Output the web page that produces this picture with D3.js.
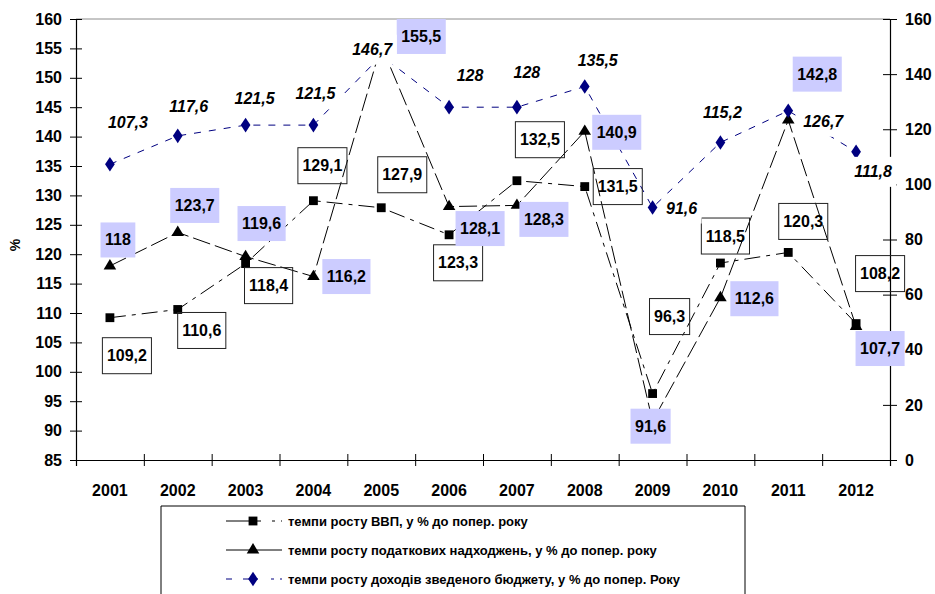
<!DOCTYPE html>
<html>
<head>
<meta charset="utf-8">
<script src="https://cdn.jsdelivr.net/npm/d3@7"></script>
<style>
  body { margin: 0; background: #fff; }
  svg { display: block; font-family: 'Liberation Sans', Arial, sans-serif; font-weight: bold; }
</style>
</head>
<body>
<svg id="chart" width="935" height="594"></svg>
<script>

// chart values
var years = ['2001', '2002', '2003', '2004', '2005', '2006', '2007', '2008', '2009', '2010', '2011', '2012']
var gdpGrowth = [109.2, 110.6, 118.4, 129.1, 127.9, 123.3, 132.5, 131.5, 96.3, 118.5, 120.3, 108.2]
var taxGrowth = [118, 123.7, 119.6, 116.2, 155.5, 128.1, 128.3, 140.9, 91.6, 112.6, 142.8, 107.7]
var budgetGrowth = [107.3, 117.6, 121.5, 121.5, 146.7, 128, 128, 135.5, 91.6, 115.2, 126.7, 111.8]
var leftTicks = [85, 90, 95, 100, 105, 110, 115, 120, 125, 130, 135, 140, 145, 150, 155, 160]
var rightTicks = [0, 20, 40, 60, 80, 100, 120, 140, 160]
var legendNames = [
	'темпи росту ВВП, у % до попер. року',
	'темпи росту податкових надходжень, у % до попер. року',
	'темпи росту доходів зведеного бюджету, у % до попер. Року'
]

// where each data label sits relative to its point (px)
var gdpLabelShift = [[17,38],[24,21],[23,22],[9,-35],[21,-33],[9,28],[23,-41],[33,0],[17,-77],[5,-27],[15,-31],[24,-50]]
var taxLabelShift = [[8,-26],[17,-27],[16,-33],[33,0],[40,-9],[31,22],[27,14],[32,1],[-2,5],[34,1],[29,-46],[24,22]]
var budgetLabelShift = [[18,-42],[11,-29],[9,-27],[2,-32],[-9,-6],[21,-32],[10,-35],[13,-26],[29,1],[2,-30],[35,11],[17,20]]

var svg = d3.select('#chart')
var plotL = 76, plotR = 890, plotT = 19, plotB = 460
var navy = '#000080'

var xScale = d3.scaleBand().domain(years).range([plotL, plotR])
var xEdge = d3.scaleLinear().domain([0, years.length]).range([plotL, plotR])
var yLeft = d3.scaleLinear().domain([85, 160]).range([plotB, plotT])
var yRight = d3.scaleLinear().domain([0, 160]).range([plotB, plotT])

function cx(d, i) { return xScale(years[i]) + xScale.bandwidth() / 2 }
function fmt(v) { return String(v).replace('.', ',') }

// top border
svg.append('line')
	.attr('x1', plotL).attr('x2', plotR).attr('y1', plotT).attr('y2', plotT)
	.attr('stroke', '#8c8c8c').attr('stroke-width', 1)

// axes
var gLeft = svg.append('g')
	.attr('transform', 'translate(' + plotL + ',0)')
	.call(d3.axisLeft(yLeft).tickValues(leftTicks).tickSize(6).tickPadding(8))
gLeft.selectAll('.tick line').attr('x1', 6)

var gRight = svg.append('g')
	.attr('transform', 'translate(' + plotR + ',0)')
	.call(d3.axisRight(yRight).tickValues(rightTicks).tickSize(7).tickPadding(8))
gRight.selectAll('.tick line').attr('x1', -7)

var gBottom = svg.append('g')
	.attr('transform', 'translate(0,' + plotB + ')')
	.call(d3.axisBottom(xEdge).tickValues(d3.range(0, years.length + 1)).tickSize(6).tickFormat(''))
gBottom.selectAll('.tick line').attr('y1', -6)

svg.selectAll('.domain').attr('stroke', '#000').attr('stroke-width', 1.2)
svg.selectAll('.tick line').attr('stroke', '#000')
svg.selectAll('.tick text').attr('font-size', 16).attr('font-weight', 'bold').attr('font-family', 'Liberation Sans, Arial, sans-serif').attr('fill', '#000')

svg.append('g')
	.selectAll('text')
	.data(years)
	.enter()
	.append('text')
	.attr('x', function (d) { return xScale(d) + xScale.bandwidth() / 2 })
	.attr('y', 496)
	.attr('text-anchor', 'middle')
	.attr('font-size', 16)
	.text(function (d) { return d })

svg.append('text')
	.attr('transform', 'translate(20,245) rotate(-90)')
	.attr('text-anchor', 'middle')
	.attr('font-size', 14)
	.text('%')

// lines
function drawLine(values, yScale, color, dash) {
	var line = d3.line()
		.x(function (d, i) { return cx(d, i) })
		.y(function (d) { return yScale(d) })
	svg.append('path')
		.datum(values)
		.attr('d', line)
		.attr('fill', 'none')
		.attr('stroke', color)
		.attr('stroke-width', 1)
		.attr('stroke-dasharray', dash)
}
drawLine(gdpGrowth, yLeft, '#000', '16,6,4,6')
drawLine(taxGrowth, yLeft, '#000', '18,5')
drawLine(budgetGrowth, yRight, navy, '7,8')

// markers
var squareSym = d3.symbol().type(d3.symbolSquare).size(78)
var triSym = d3.symbol().type(d3.symbolTriangle).size(62)
var diamondSym = d3.symbol().type(d3.symbolDiamond).size(62)

function drawMarkers(values, yScale, sym, color, scaleX) {
	svg.append('g')
		.selectAll('path')
		.data(values)
		.enter()
		.append('path')
		.attr('d', sym)
		.attr('fill', color)
		.attr('transform', function (d, i) {
			return 'translate(' + cx(d, i) + ',' + yScale(d) + ') scale(' + scaleX + ',1)'
		})
}
drawMarkers(gdpGrowth, yLeft, squareSym, '#000', 1)
drawMarkers(taxGrowth, yLeft, triSym, '#000', 1.05)
drawMarkers(budgetGrowth, yRight, diamondSym, navy, 1.15)

// data labels
function drawLabels(values, yScale, shift, boxFill, boxStroke, italic, boxH) {
	var g = svg.append('g')
	values.forEach(function (v, i) {
		var px = cx(v, i) + shift[i][0]
		var py = yScale(v) + shift[i][1]
		var rect = g.append('rect')
		var t = g.append('text')
			.attr('x', px)
			.attr('y', py)
			.attr('text-anchor', 'middle')
			.attr('dominant-baseline', 'central')
			.attr('font-size', 16)
			.attr('font-style', italic ? 'italic' : 'normal')
			.text(fmt(v))
		var w = t.node().getComputedTextLength() + 9
		rect.attr('x', px - w / 2).attr('y', py - boxH / 2)
			.attr('width', w).attr('height', boxH)
			.attr('fill', boxFill)
			.attr('stroke', boxStroke)
			.attr('stroke-width', 1)
	})
}
drawLabels(gdpGrowth, yLeft, gdpLabelShift, 'none', '#222', false, 36)
drawLabels(taxGrowth, yLeft, taxLabelShift, '#ccccff', 'none', false, 35)
drawLabels(budgetGrowth, yRight, budgetLabelShift, '#fff', 'none', true, 30)

// legend
var lg = svg.append('g')
lg.append('path')
	.attr('d', 'M161,600 L161,506 L745,506 L745,600')
	.attr('fill', '#fff')
	.attr('stroke', '#000')
	.attr('stroke-width', 1)

var legendRows = [
	{ color: '#000', dash: '24,6,5,11,3,6', sym: squareSym, sx: 1 },
	{ color: '#000', dash: 'none', sym: triSym, sx: 1.05 },
	{ color: navy, dash: '6,11,6,2,7,13,3', sym: diamondSym, sx: 1.15 }
]
legendRows.forEach(function (r, i) {
	var ly = 521 + i * 29
	lg.append('line')
		.attr('x1', 226).attr('x2', 282).attr('y1', ly).attr('y2', ly)
		.attr('stroke', r.color).attr('stroke-width', 1)
		.attr('stroke-dasharray', r.dash)
	lg.append('path')
		.attr('d', r.sym)
		.attr('fill', r.color)
		.attr('transform', 'translate(253,' + ly + ') scale(' + r.sx + ',1)')
	lg.append('text')
		.attr('x', 288)
		.attr('y', ly)
		.attr('dominant-baseline', 'central')
		.attr('font-size', 13)
		.text(legendNames[i])
})

</script>
</body>
</html>
